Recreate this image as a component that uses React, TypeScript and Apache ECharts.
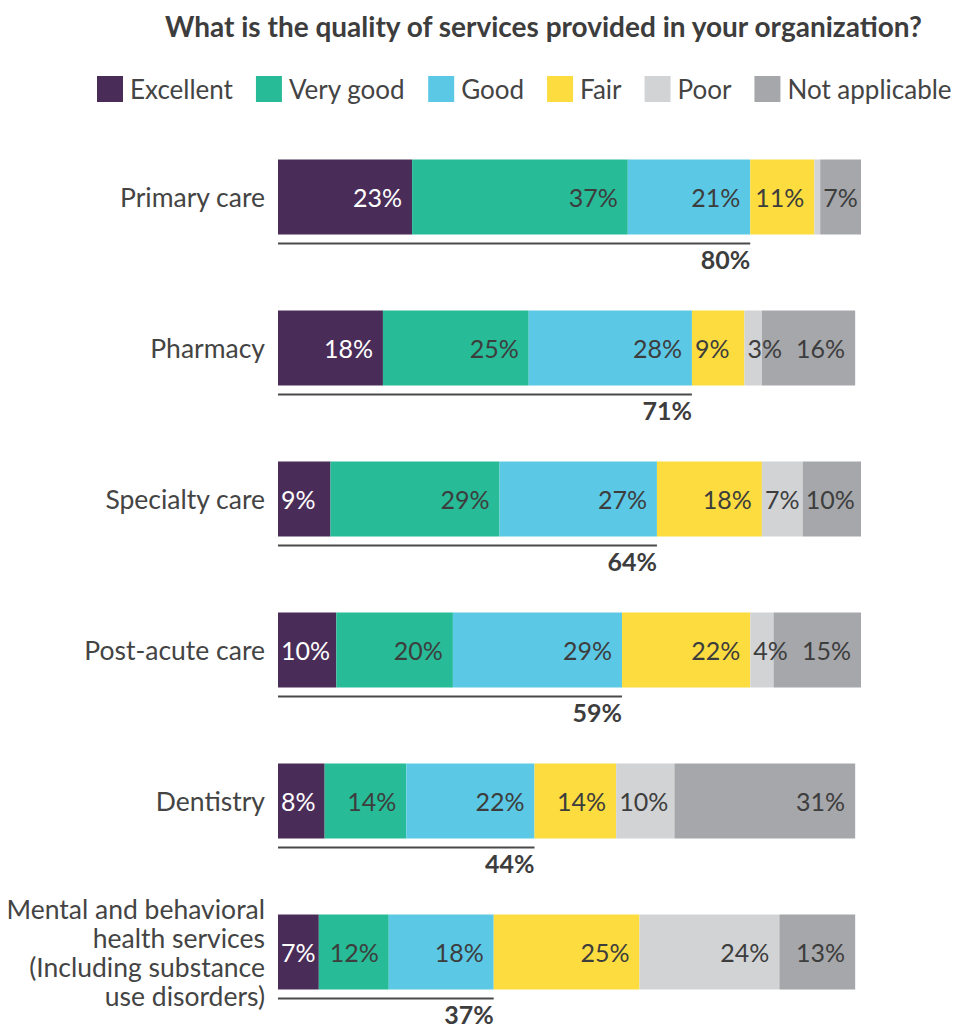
import React, { useEffect, useRef } from "react";
import * as echarts from "echarts";

const categories = [
  "Primary care",
  "Pharmacy",
  "Specialty care",
  "Post-acute care",
  "Dentistry",
  "Mental and behavioral\nhealth services\n(Including substance\nuse disorders)",
];
const seriesNames = ["Excellent", "Very good", "Good", "Fair", "Poor", "Not applicable"];
const excellent = [23, 18, 9, 10, 8, 7];
const veryGood = [37, 25, 29, 20, 14, 12];
const good = [21, 28, 27, 29, 22, 18];
const fair = [11, 9, 18, 22, 14, 25];
const poor = [1, 3, 7, 4, 10, 24];
const notApplicable = [7, 16, 10, 15, 31, 13];
const topThreeLabels = ["80%", "71%", "64%", "59%", "44%", "37%"];
const hiddenLabels: Record<string, number[]> = { Poor: [0] };

const colors = ["#4a2c58", "#27bb97", "#5bc9e6", "#fcdc3f", "#d2d3d5", "#a6a7aa"];
const FONT = "Lato, 'Noto Sans', sans-serif";

export default function App() {
  const ref = useRef<HTMLDivElement>(null);
  useEffect(() => {
    if (!ref.current) return;
    const chart = echarts.init(ref.current, undefined, { renderer: "svg" });
    const allValues = [excellent, veryGood, good, fair, poor, notApplicable];
    const barSeries = seriesNames.map((name, si) => ({
      name,
      type: "bar",
      stack: "total",
      barWidth: 75,
      itemStyle: { color: colors[si] },
      label: {
        show: true,
        position: "insideRight",
        fontSize: 25,
        fontFamily: FONT,
        color: si === 0 ? "#ffffff" : "#3d3d3d",
        formatter: (p: any) => `${p.value}%`,
      },
      data: allValues[si].map((v, ci) => ({
        value: v,
        label: {
          show: !(hiddenLabels[name] || []).includes(ci),
          position: v <= 10 ? "insideLeft" : "insideRight",
          distance: v <= 10 ? 3 : 10,
        },
      })),
    }));
    const underlineData = categories.map((_, ci) => [
      excellent[ci] + veryGood[ci] + good[ci],
      ci,
      topThreeLabels[ci],
    ]);
    chart.setOption({
      animation: false,
      title: {
        text: "What is the quality of services provided in your organization?",
        left: 160,
        top: 7,
        textStyle: { fontFamily: FONT, fontSize: 28, fontWeight: "bold", color: "#3d3d3d" },
      },
      legend: {
        left: 97,
        top: 76,
        width: 870,
        padding: 0,
        itemWidth: 26,
        itemHeight: 26,
        itemGap: 23,
        icon: "rect",
        data: seriesNames,
        textStyle: { fontFamily: FONT, fontSize: 26, color: "#444444", padding: [0, 0, 0, 2] },
      },
      grid: { left: 278, right: 98, top: 121.5, height: 906, containLabel: false },
      xAxis: { type: "value", min: 0, max: 100, show: false },
      yAxis: {
        type: "category",
        inverse: true,
        data: categories,
        axisLine: { show: false },
        axisTick: { show: false },
        axisLabel: {
          fontFamily: FONT,
          fontSize: 26.5,
          color: "#444444",
          margin: 13,
          lineHeight: 29,
          align: "right",
        },
      },
      series: [
        ...barSeries,
        {
          type: "custom",
          silent: true,
          encode: { x: 0, y: 1 },
          data: underlineData,
          renderItem: (params: any, api: any) => {
            const ci = api.value(1);
            const start = api.coord([0, ci]);
            const end = api.coord([api.value(0), ci]);
            const y = start[1] + 37.5 + 9;
            return {
              type: "group",
              children: [
                {
                  type: "line",
                  shape: { x1: start[0], y1: y, x2: end[0], y2: y },
                  style: { stroke: "#4a4a4a", lineWidth: 2 },
                },
                {
                  type: "text",
                  x: end[0],
                  y: y + 3,
                  style: {
                    text: underlineData[params.dataIndex][2],
                    fontFamily: FONT,
                    fontSize: 25,
                    fontWeight: "bold",
                    fill: "#3d3d3d",
                    align: "right",
                    verticalAlign: "top",
                  },
                },
              ],
            };
          },
        },
      ],
    });
    return () => chart.dispose();
  }, []);
  return (
    <div
      ref={ref}
      style={{ position: "absolute", left: 0, top: 0, width: 959, height: 1029 }}
    />
  );
}
